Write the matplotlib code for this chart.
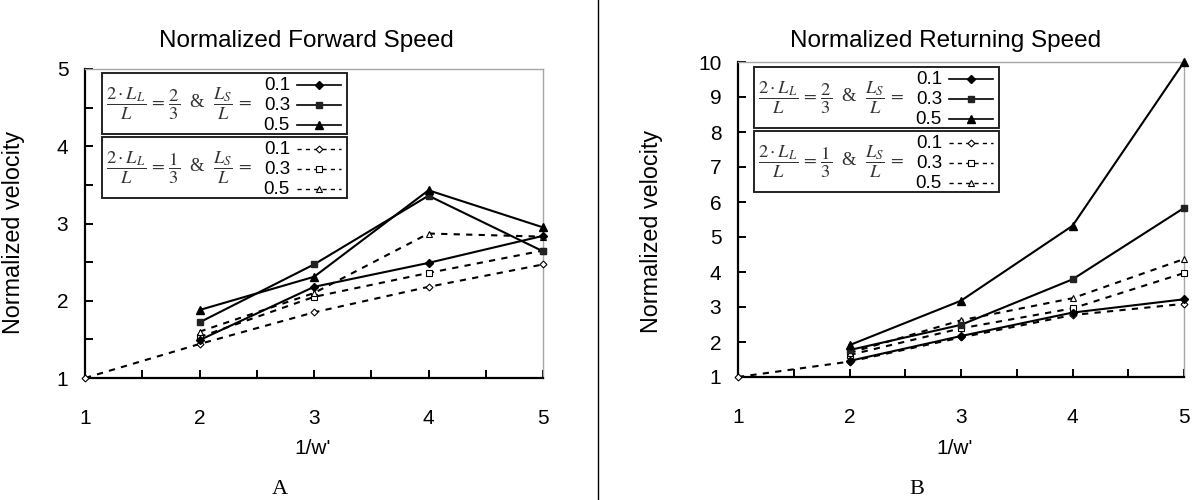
import matplotlib
matplotlib.use("Agg")
import matplotlib.pyplot as plt
from matplotlib.patches import Rectangle
from matplotlib.lines import Line2D
from matplotlib.ticker import MultipleLocator

plt.rcParams["font.family"] = ["Liberation Sans", "DejaVu Sans"]
plt.rcParams["mathtext.fontset"] = "stix"

# x positions (1/w')
x_pts = [2, 3, 4, 5]
x_from_one = [1, 2, 3, 4, 5]

# Normalized forward speed, 2*L_L/L = 2/3
fwd_a_01 = [1.49, 2.18, 2.49, 2.84]
fwd_a_03 = [1.72, 2.47, 3.36, 2.64]
fwd_a_05 = [1.88, 2.31, 3.43, 2.95]
# Normalized forward speed, 2*L_L/L = 1/3
fwd_b_01 = [1.00, 1.44, 1.85, 2.18, 2.47]
fwd_b_03 = [1.53, 2.05, 2.36, 2.65]
fwd_b_05 = [1.60, 2.10, 2.87, 2.83]

# Normalized returning speed, 2*L_L/L = 2/3
ret_a_01 = [1.46, 2.17, 2.84, 3.22]
ret_a_03 = [1.77, 2.49, 3.79, 5.83]
ret_a_05 = [1.91, 3.18, 5.32, 10.0]
# Normalized returning speed, 2*L_L/L = 1/3
ret_b_01 = [1.00, 1.44, 2.13, 2.77, 3.09]
ret_b_03 = [1.63, 2.39, 2.96, 3.97]
ret_b_05 = [1.69, 2.62, 3.25, 4.37]

ratio_labels = ["0.1", "0.3", "0.5"]
titles = ["Normalized Forward Speed", "Normalized Returning Speed"]
panel_tags = ["A", "B"]

W, H = 1193, 500
fig = plt.figure(figsize=(W / 100, H / 100), dpi=100)


def fx(px):
    return px / W


def fy(py):
    return 1 - py / H


DASH = (0, (3.0, 3.0))
solid_styles = [
    dict(marker="D", ms=4.5, mfc="black", mec="black"),
    dict(marker="s", ms=5.0, mfc="#222222", mec="#222222"),
    dict(marker="^", ms=6.0, mfc="black", mec="black"),
]
dash_styles = [
    dict(marker="D", ms=3.5, mfc="white", mec="black", mew=0.8),
    dict(marker="s", ms=4.0, mfc="white", mec="black", mew=0.8),
    dict(marker="^", ms=4.5, mfc="white", mec="black", mew=0.8),
]


def make_axes(box, ymax):
    l, t, r, b = box
    ax = fig.add_axes([fx(l), fy(b), fx(r) - fx(l), fy(t) - fy(b)])
    ax.set_xlim(1, 5)
    ax.set_ylim(1, ymax)
    for side in ("left", "bottom"):
        ax.spines[side].set_linewidth(1.6)
        ax.spines[side].set_color("black")
    for side in ("top", "right"):
        ax.spines[side].set_linewidth(1.0)
        ax.spines[side].set_color("#a6a6a6")
    ax.xaxis.set_major_locator(MultipleLocator(1))
    ax.xaxis.set_minor_locator(MultipleLocator(0.5))
    ax.yaxis.set_major_locator(MultipleLocator(1))
    ax.tick_params(which="both", direction="in", top=False, right=False,
                   color="black", width=1.4)
    ax.tick_params(which="major", length=6)
    ax.tick_params(which="minor", length=6)
    ax.tick_params(axis="x", labelsize=15, pad=22)
    ax.tick_params(axis="y", labelsize=15, pad=12)
    ax.set_ylabel("Normalized velocity", fontsize=16.8)
    return ax


def plot_series(ax, a_series, b_series):
    for ys, st in zip(a_series, solid_styles):
        ax.plot(x_pts, ys, color="black", lw=1.5, clip_on=False, zorder=4, **st)
    for i, (ys, st) in enumerate(zip(b_series, dash_styles)):
        xs = x_from_one if i == 0 else x_pts
        ax.plot(xs, ys, color="black", lw=1.5, ls=DASH, clip_on=False,
                zorder=3, **st)


def legend_block(left, top):
    width = 245
    boxes = [(top, top + 61), (top + 64, top + 125)]
    fracs = [r"\dfrac{2}{3}", r"\dfrac{1}{3}"]
    for k, ((bt, bb), frac, styles, ls) in enumerate(
            zip(boxes, fracs, [solid_styles, dash_styles], ["-", DASH])):
        fig.add_artist(Rectangle((fx(left), fy(bb)), fx(width), fy(bt) - fy(bb),
                                 transform=fig.transFigure, fill=False,
                                 ec="#222222", lw=1.4))
        fig.text(fx(left + 4), fy((bt + bb) / 2),
                 r"$\dfrac{2\cdot L_L}{L}\,=\," + frac +
                 r"$  &  $\dfrac{L_S}{L}\,=$",
                 fontsize=13.3, ha="left", va="center",
                 family="Liberation Serif", color="#333333")
        for j, (lab, st) in enumerate(zip(ratio_labels, styles)):
            ry = bt + 12 + 20 * j
            fig.text(fx(left + 188), fy(ry), lab, fontsize=13.5,
                     ha="right", va="center")
            fig.add_artist(Line2D([fx(left + 195), fx(left + 239)], [fy(ry), fy(ry)],
                                  transform=fig.transFigure, color="black",
                                  lw=1.2 if k == 0 else 1.0, ls=ls))
            fig.add_artist(Line2D([fx(left + 217)], [fy(ry)],
                                  transform=fig.transFigure, ls="none", **st))


# Left panel: forward speed
ax1 = make_axes((85, 69, 543, 378), 5)
ax1.yaxis.set_minor_locator(MultipleLocator(0.5))
plot_series(ax1, [fwd_a_01, fwd_a_03, fwd_a_05], [fwd_b_01, fwd_b_03, fwd_b_05])
ax1.yaxis.set_label_coords((25 - 85) / (543 - 85), (378 - 232) / (378 - 69))
legend_block(102, 73)

# Right panel: returning speed
ax2 = make_axes((738, 62, 1184, 377), 10)
plot_series(ax2, [ret_a_01, ret_a_03, ret_a_05], [ret_b_01, ret_b_03, ret_b_05])
ax2.yaxis.set_label_coords((663 - 738) / (1184 - 738), (377 - 231) / (377 - 62))
legend_block(754, 67)

# Titles, axis captions and panel letters in figure pixels
for text, cx in zip(titles, [306, 946]):
    fig.text(fx(cx), fy(47), text, fontsize=17.5, ha="center", va="baseline")
for cx in [313, 955]:
    fig.text(fx(cx), fy(448), "1/w'", fontsize=15, ha="center", va="center")
for tag, cx in zip(panel_tags, [280, 917]):
    fig.text(fx(cx), fy(489), tag, fontsize=16, ha="center", va="center",
             family="Liberation Serif")

# Divider between the two panels
fig.add_artist(Line2D([fx(598), fx(598)], [0, 1], transform=fig.transFigure,
                      color="black", lw=1.0))

fig.savefig("out.png", dpi=100)
